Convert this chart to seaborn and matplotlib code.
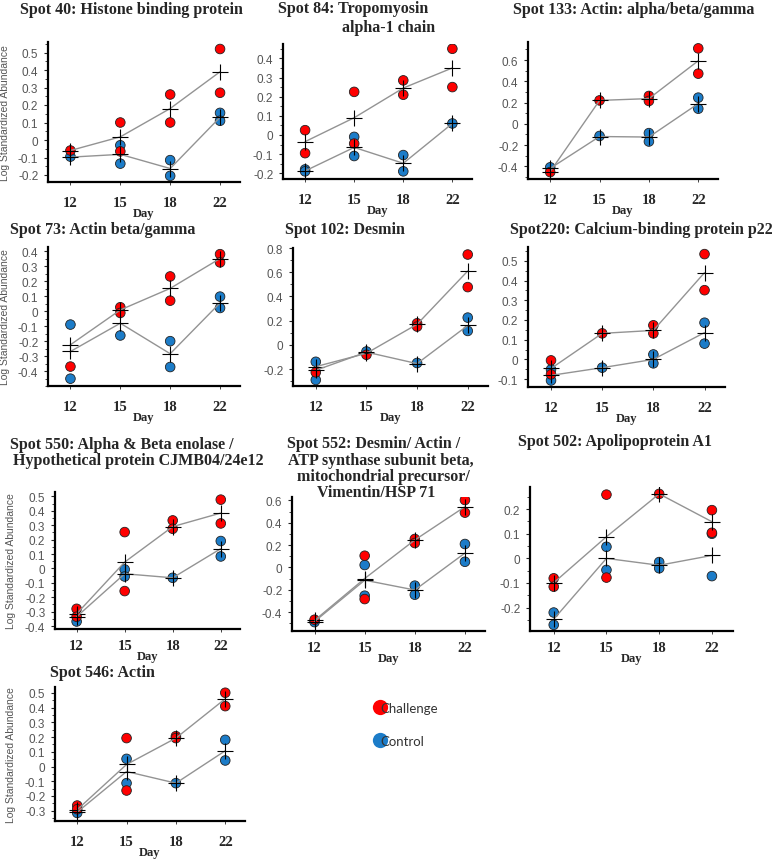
import numpy as np
import pandas as pd
import matplotlib
matplotlib.use("Agg")
import matplotlib.pyplot as plt
from matplotlib.lines import Line2D
from matplotlib.ticker import AutoMinorLocator
import seaborn as sns

W, H = 778, 862
DAYS = ["12", "15", "18", "22"]
RED = "#ff0000"
BLUE = "#1c7cc8"

# values: replicate points per day, then the plotted means
spot40_chal = [[-0.06], [0.10, -0.065], [0.26, 0.10], [0.52, 0.27]]
spot40_ctrl = [[-0.095], [-0.03, -0.135], [-0.115, -0.205], [0.155, 0.11]]
spot40_chal_mean = [-0.06, 0.018, 0.18, 0.39]
spot40_ctrl_mean = [-0.098, -0.082, -0.163, 0.13]

spot84_chal = [[0.025, -0.095], [0.225, -0.045], [0.285, 0.21], [0.45, 0.25]]
spot84_ctrl = [[-0.18, -0.19], [-0.01, -0.11], [-0.105, -0.19], [0.06]]
spot84_chal_mean = [-0.035, 0.09, 0.245, 0.35]
spot84_ctrl_mean = [-0.188, -0.065, -0.148, 0.06]

spot133_chal = [[-0.455], [0.22], [0.262, 0.215], [0.71, 0.472]]
spot133_ctrl = [[-0.41], [-0.115], [-0.088, -0.167], [0.246, 0.142]]
spot133_chal_mean = [-0.45, 0.22, 0.237, 0.593]
spot133_ctrl_mean = [-0.42, -0.12, -0.125, 0.19]

spot73_chal = [[-0.37], [0.027, -0.011], [0.233, 0.071], [0.382, 0.327]]
spot73_ctrl = [[-0.089, -0.451], [-0.162], [-0.2, -0.373], [0.098, 0.022]]
spot73_chal_mean = [-0.224, 0.009, 0.153, 0.353]
spot73_ctrl_mean = [-0.269, -0.08, -0.284, 0.056]

spot102_chal = [[-0.227], [-0.082], [0.178, 0.151], [0.746, 0.477]]
spot102_ctrl = [[-0.14, -0.29], [-0.055], [-0.15], [0.225, 0.115]]
spot102_chal_mean = [-0.18, -0.07, 0.17, 0.61]
spot102_ctrl_mean = [-0.21, -0.06, -0.155, 0.16]

spot220_chal = [[-0.005, -0.076], [0.132], [0.173, 0.132], [0.534, 0.351]]
spot220_ctrl = [[-0.051, -0.107], [-0.042], [0.025, -0.02], [0.186, 0.08]]
spot220_chal_mean = [-0.046, 0.132, 0.147, 0.44]
spot220_ctrl_mean = [-0.081, -0.042, 0.0, 0.136]

spot550_chal = [[-0.28, -0.335], [0.252, -0.157], [0.333, 0.275], [0.477, 0.312]]
spot550_ctrl = [[-0.368], [-0.007, -0.056], [-0.065], [0.19, 0.083]]
spot550_chal_mean = [-0.315, 0.044, 0.29, 0.384]
spot550_ctrl_mean = [-0.335, -0.037, -0.065, 0.137]

spot552_chal = [[-0.469], [0.104, -0.284], [0.254, 0.218], [0.603, 0.49]]
spot552_ctrl = [[-0.49], [0.021, -0.254], [-0.164, -0.245], [0.209, 0.05]]
spot552_chal_mean = [-0.475, -0.1, 0.245, 0.543]
spot552_ctrl_mean = [-0.485, -0.115, -0.203, 0.128]

spot502_chal = [[-0.081, -0.115], [0.259, -0.078], [0.262], [0.196, 0.104]]
spot502_ctrl = [[-0.22, -0.27], [0.047, -0.047], [-0.015, -0.04], [0.1, -0.072]]
spot502_chal_mean = [-0.099, 0.088, 0.262, 0.149]
spot502_ctrl_mean = [-0.247, 0.0, -0.028, 0.012]

spot546_chal = [[-0.265, -0.29], [0.193, -0.163], [0.206, 0.193], [0.501, 0.41]]
spot546_ctrl = [[-0.315], [0.052, -0.113], [-0.113], [0.181, 0.041]]
spot546_chal_mean = [-0.293, 0.014, 0.193, 0.46]
spot546_ctrl_mean = [-0.31, -0.034, -0.113, 0.107]

sns.set_style("ticks")
plt.rcParams["font.family"] = ["Liberation Sans", "DejaVu Sans"]

fig = plt.figure(figsize=(W / 100, H / 100), dpi=100)


def px(x, y):
    return x / W, 1 - y / H


def points_frame(chal, ctrl):
    rows = []
    for grp, vals in (("Control", ctrl), ("Challenge", chal)):
        for d, vs in zip(DAYS, vals):
            for v in vs:
                rows.append({"day": d, "value": v, "group": grp})
    return pd.DataFrame(rows)


def mean_frame(chal_mean, ctrl_mean):
    return pd.DataFrame({
        "day": DAYS * 2,
        "value": list(chal_mean) + list(ctrl_mean),
        "group": ["Challenge"] * 4 + ["Control"] * 4,
    })


def panel(box, chal, ctrl, chal_mean, ctrl_mean, yticks, ylim, ylab_x=None, xpad=8):
    l, t, r, b = box
    ax = fig.add_axes([l / W, 1 - b / H, (r - l) / W, (b - t) / H])
    sns.scatterplot(data=points_frame(chal, ctrl), x="day", y="value", hue="group",
                    palette={"Challenge": RED, "Control": BLUE}, s=48,
                    edgecolor="#222222", linewidth=0.6, legend=False, ax=ax, zorder=3)
    sns.lineplot(data=mean_frame(chal_mean, ctrl_mean), x="day", y="value",
                 units="group", estimator=None, color="#939393", linewidth=1.0,
                 marker="+", markersize=12, markeredgecolor="black",
                 markeredgewidth=0.8, ax=ax, zorder=4)
    ax.set_xlim(-0.45, 3.4)
    ax.set_ylim(*ylim)
    ax.set_yticks(yticks)
    ax.set_yticklabels(["0" if abs(v) < 1e-9 else f"{v:g}" for v in yticks],
                       fontsize=8.5, color="#555555")
    ax.yaxis.set_minor_locator(AutoMinorLocator(2))
    ax.set_xticks(range(4))
    ax.set_xticklabels(DAYS, fontsize=10.5, fontweight="bold", family="Liberation Serif")
    ax.tick_params(axis="y", which="major", length=3, width=0.8, pad=4)
    ax.tick_params(axis="y", which="minor", length=2, width=0.6)
    ax.tick_params(axis="x", length=2, width=0.6, pad=xpad)
    ax.set_xlabel("Day", fontsize=9, fontweight="bold", family="Liberation Serif",
                  labelpad=-1.5)
    if ylab_x is not None:
        ax.set_ylabel("Log Standardized Abundance", fontsize=7.5, color="#555555")
        ax.yaxis.set_label_coords((ylab_x - l) / (r - l), 0.5)
    else:
        ax.set_ylabel("")
    sns.despine(ax=ax)
    for s in ("left", "bottom"):
        ax.spines[s].set_linewidth(1.6)
        ax.spines[s].set_color("black")
    ax.grid(False)
    return ax


def title(x, y, s):
    fig.text(*px(x, y), s, ha="left", va="center", fontsize=11.5, fontweight="bold",
             family="Liberation Serif")


ticks_01 = lambda lo, hi: [round(v, 1) for v in np.arange(lo, hi + 0.001, 0.1)]
ticks_02 = lambda lo, hi: [round(v, 1) for v in np.arange(lo, hi + 0.001, 0.2)]

panel((48, 43, 240, 183), spot40_chal, spot40_ctrl, spot40_chal_mean, spot40_ctrl_mean,
      ticks_01(-0.2, 0.5), (-0.24, 0.56), ylab_x=10)
panel((283, 45, 472, 180), spot84_chal, spot84_ctrl, spot84_chal_mean, spot84_ctrl_mean,
      ticks_01(-0.2, 0.4), (-0.23, 0.475))
panel((528, 43, 718, 180), spot133_chal, spot133_ctrl, spot133_chal_mean, spot133_ctrl_mean,
      ticks_02(-0.4, 0.6), (-0.52, 0.77))

panel((48, 248, 240, 387), spot73_chal, spot73_ctrl, spot73_chal_mean, spot73_ctrl_mean,
      ticks_01(-0.4, 0.4), (-0.5, 0.43), ylab_x=10)
panel((293, 249, 488, 387), spot102_chal, spot102_ctrl, spot102_chal_mean, spot102_ctrl_mean,
      ticks_02(-0.2, 0.8), (-0.34, 0.8))
panel((528, 248, 725, 388), spot220_chal, spot220_ctrl, spot220_chal_mean, spot220_ctrl_mean,
      ticks_01(-0.1, 0.5), (-0.14, 0.57))

panel((55, 493, 240, 630), spot550_chal, spot550_ctrl, spot550_chal_mean, spot550_ctrl_mean,
      ticks_01(-0.4, 0.5), (-0.42, 0.53), ylab_x=16, xpad=5.5)
panel((292, 498, 485, 632), spot552_chal, spot552_ctrl, spot552_chal_mean, spot552_ctrl_mean,
      ticks_02(-0.4, 0.6), (-0.57, 0.63), xpad=5.5)
panel((530, 488, 733, 632), spot502_chal, spot502_ctrl, spot502_chal_mean, spot502_ctrl_mean,
      ticks_01(-0.2, 0.2), (-0.295, 0.29), xpad=5.5)

panel((55, 688, 245, 822), spot546_chal, spot546_ctrl, spot546_chal_mean, spot546_ctrl_mean,
      ticks_01(-0.3, 0.5), (-0.37, 0.54), ylab_x=16)

title(20, 10, "Spot 40: Histone binding protein")
title(278, 9, "Spot 84: Tropomyosin")
title(342, 28, "alpha-1 chain")
title(513, 10, "Spot 133: Actin: alpha/beta/gamma")
title(10, 230, "Spot 73: Actin beta/gamma")
title(285, 230, "Spot 102: Desmin")
title(510, 230, "Spot220: Calcium-binding protein p22")
title(10, 445, "Spot 550: Alpha & Beta enolase /")
title(13, 461, "Hypothetical protein CJMB04/24e12")
title(287, 444, "Spot 552: Desmin/ Actin /")
title(288, 461, "ATP synthase subunit beta,")
title(297, 477, "mitochondrial precursor/")
title(317, 493, "Vimentin/HSP 71")
title(518, 442, "Spot 502: Apolipoprotein A1")
title(50, 673, "Spot 546: Actin")

handles = [
    Line2D([], [], ls="", marker="o", markersize=11, markerfacecolor=RED, markeredgecolor="none"),
    Line2D([], [], ls="", marker="o", markersize=11, markerfacecolor=BLUE, markeredgecolor="none"),
]
fig.legend(handles, ["Challenge", "Control"], loc="upper left", bbox_to_anchor=px(362, 691),
           frameon=False, handlelength=1.0, handletextpad=-0.5, labelspacing=1.6,
           prop={"family": "Lato", "size": 9.5}, labelcolor="#333333")

fig.savefig("out.png", dpi=100)
